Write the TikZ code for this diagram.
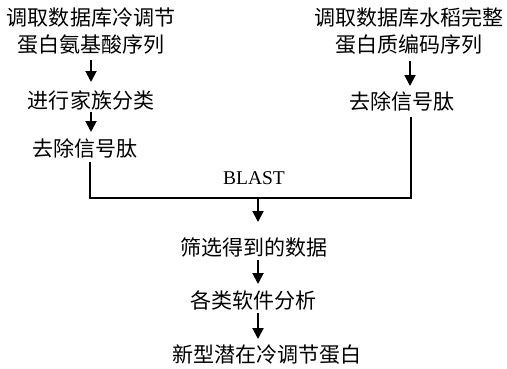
\documentclass[tikz,border=0pt]{standalone}
\usepackage{fontspec}
\setmainfont{Liberation Serif}
\newfontfamily\cjk{Noto Sans CJK SC}
\usetikzlibrary{arrows.meta}
\begin{document}
\begin{tikzpicture}[x=1bp,y=-1bp,
  lbl/.style={font=\cjk\fontsize{21bp}{27bp}\selectfont, inner sep=0pt, align=center},
  con/.style={line width=1.9bp},
  arr/.style={con, -{Triangle[length=11bp,width=11bp]}}]
\useasboundingbox (0,0) rectangle (507,368);
\node[lbl] (a1) at (91,31) {调取数据库冷调节\\蛋白氨基酸序列};
\node[lbl] (a2) at (91,100) {进行家族分类};
\node[lbl] (a3) at (85,148) {去除信号肽};
\node[lbl] (b1) at (409,31) {调取数据库水稻完整\\蛋白质编码序列};
\node[lbl] (b2) at (402,101) {去除信号肽};
\node[font=\fontsize{19.5bp}{22bp}\selectfont, inner sep=0pt] (blast) at (254,178) {BLAST};
\node[lbl] (c1) at (254,247) {筛选得到的数据};
\node[lbl] (c2) at (253,300) {各类软件分析};
\node[lbl] (c3) at (267,355) {新型潜在冷调节蛋白};
\coordinate (jl) at (90,198);
\coordinate (jr) at (411,198);
\coordinate (jm) at (258,198);
\coordinate (a3b) at (90,162);
\coordinate (b2b) at (411,117);
\draw[arr] (91,60) -- (91,82);
\draw[arr] (91,112) -- (91,132);
\draw[arr] (410,61) -- (410,86);
\draw[con] (a3b) -- (jl) -- (jr) -- (b2b);
\draw[arr] (jm) -- (258,222);
\draw[arr] (258,260) -- (258,284);
\draw[arr] (258,313) -- (258,339);
\end{tikzpicture}
\end{document}
